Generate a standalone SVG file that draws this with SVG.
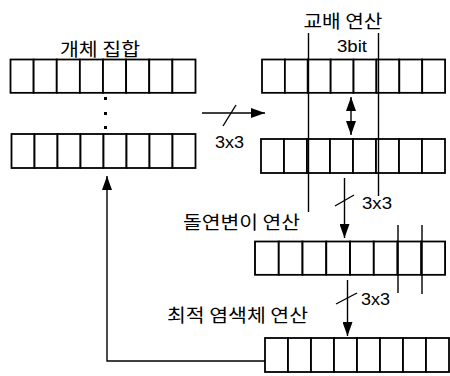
<svg xmlns="http://www.w3.org/2000/svg" width="450" height="376" viewBox="0 0 450 376">
<defs>
<style>
.cell{fill:#fff;stroke:#000;stroke-width:1.8}
.ln{fill:none;stroke:#000;stroke-width:1.4}
.ko{font-family:"Noto Sans CJK KR","Noto Sans",sans-serif;font-size:18px;fill:#000}
.num{font-family:"Liberation Sans",Arial,sans-serif;font-size:16px;fill:#000}
</style>
<marker id="ah" viewBox="0 0 14 10" refX="14" refY="5" markerWidth="14" markerHeight="10" markerUnits="userSpaceOnUse" orient="auto-start-reverse">
<path d="M0,0 L14,5 L0,10 Z" fill="#000"/>
</marker>
<g id="cells8">
<rect class="cell" x="0" y="0" width="23" height="34"/>
<rect class="cell" x="23" y="0" width="23" height="34"/>
<rect class="cell" x="46" y="0" width="23" height="34"/>
<rect class="cell" x="69" y="0" width="23" height="34"/>
<rect class="cell" x="92" y="0" width="23" height="34"/>
<rect class="cell" x="115" y="0" width="23" height="34"/>
<rect class="cell" x="138" y="0" width="23" height="34"/>
<rect class="cell" x="161" y="0" width="23" height="34"/>
</g>
</defs>
<rect width="450" height="376" fill="#fff"/>

<g id="pop1"><use href="#cells8" transform="translate(10.5,59.5) scale(1.0054,0.98)"/></g>
<g id="dots">
<rect x="104" y="97" width="3" height="3" fill="#000"/>
<rect x="104" y="112" width="3" height="3" fill="#000"/>
<rect x="104" y="126" width="3" height="3" fill="#000"/>
</g>
<g id="pop2"><use href="#cells8" transform="translate(11.5,134)"/></g>
<g id="cross1"><use href="#cells8" transform="translate(262,59.5) scale(0.995,0.98)"/></g>
<g id="cross2"><use href="#cells8" transform="translate(261,139) scale(1,1)"/></g>
<g id="mut"><use href="#cells8" transform="translate(255,241.5) scale(1.033,0.98)"/></g>
<g id="best"><use href="#cells8" transform="translate(265,338)"/></g>

<g id="labels">
<text class="ko" x="100" y="56" text-anchor="middle" textLength="80" lengthAdjust="spacingAndGlyphs">개체 집합</text>
<text class="ko" x="343" y="28" text-anchor="middle" textLength="79" lengthAdjust="spacingAndGlyphs">교배 연산</text>
<text class="num" x="352" y="52" text-anchor="middle" textLength="30" lengthAdjust="spacingAndGlyphs">3bit</text>
<text class="num" x="229.5" y="148" text-anchor="middle" textLength="29" lengthAdjust="spacingAndGlyphs">3x3</text>
<text class="ko" x="241.5" y="229" text-anchor="middle" textLength="117" lengthAdjust="spacingAndGlyphs">돌연변이 연산</text>
<text class="num" x="377" y="208.5" text-anchor="middle" textLength="30" lengthAdjust="spacingAndGlyphs">3x3</text>
<text class="ko" x="237.5" y="322" text-anchor="middle" textLength="141" lengthAdjust="spacingAndGlyphs">최적 염색체 연산</text>
<text class="num" x="375.5" y="305" text-anchor="middle" textLength="29" lengthAdjust="spacingAndGlyphs">3x3</text>
</g>

<g id="connectors">
<path class="ln" d="M265,361 H107 V176" marker-end="url(#ah)"/>
<path class="ln" d="M202,113 H265" marker-end="url(#ah)"/>
<path class="ln" d="M223,126 L236,105"/>
<path class="ln" d="M351,97 V135" marker-start="url(#ah)" marker-end="url(#ah)"/>
<path class="ln" d="M308.5,33 V212"/>
<path class="ln" d="M378.5,33 V196"/>
<path class="ln" d="M344.5,178 V238" marker-end="url(#ah)"/>
<path class="ln" d="M335,206 L354,195"/>
<path class="ln" d="M347.5,280 V336" marker-end="url(#ah)"/>
<path class="ln" d="M336,304 L357,293"/>
<path class="ln" d="M398,225 V293"/>
<path class="ln" d="M422,225 V294"/>
</g>
</svg>
